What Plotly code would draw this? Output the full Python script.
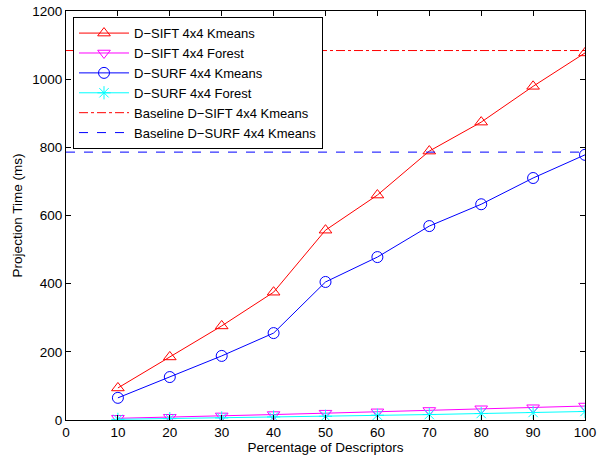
import plotly.graph_objects as go

percent = [10, 20, 30, 40, 50, 60, 70, 80, 90, 100]
sift_kmeans = [94, 185, 276, 375, 557, 660, 789, 874, 979, 1077]
sift_forest = [5, 8, 12, 16, 20, 24, 28, 33, 36, 41]
surf_kmeans = [65, 126, 188, 255, 405, 478, 569, 633, 710, 778]
surf_forest = [2, 4, 6, 9, 11, 14, 16, 19, 22, 25]
baseline_sift = 1084
baseline_surf = 786
x_limits = [0, 100]
y_limits = [0, 1200]

font = dict(family="Liberation Sans, Arial, sans-serif", size=13.5, color="black")
legend_font = dict(family="Liberation Sans, Arial, sans-serif", size=13, color="black")

fig = go.Figure()
series = [
    ("D\u2212SIFT 4x4 Kmeans", sift_kmeans, "red", "triangle-up-open"),
    ("D\u2212SIFT 4x4 Forest", sift_forest, "magenta", "triangle-down-open"),
    ("D\u2212SURF 4x4 Kmeans", surf_kmeans, "blue", "circle-open"),
    ("D\u2212SURF 4x4 Forest", surf_forest, "cyan", "asterisk-open"),
]
for name, vals, col, sym in series:
    fig.add_trace(go.Scatter(
        x=percent, y=vals, name=name, mode="lines+markers",
        line=dict(color=col, width=1),
        marker=dict(symbol=sym, size=11, color=col, line=dict(color=col, width=1)),
    ))

fig.add_trace(go.Scatter(
    x=x_limits, y=[baseline_sift] * 2, name="Baseline D\u2212SIFT 4x4 Kmeans",
    mode="lines", line=dict(color="red", width=1, dash="dashdot"),
))
fig.add_trace(go.Scatter(
    x=x_limits, y=[baseline_surf] * 2, name="Baseline D\u2212SURF 4x4 Kmeans",
    mode="lines", line=dict(color="blue", width=1, dash="dash"),
))

axis_common = dict(
    showgrid=False, zeroline=False, showline=True, linecolor="black", linewidth=1,
    mirror="ticks", ticks="inside", ticklen=5, tickcolor="black", tickwidth=1,
    tickfont=font, automargin=False,
)
fig.update_xaxes(range=x_limits, dtick=10, tick0=0,
                 title=dict(text="Percentage of Descriptors", font=font, standoff=2),
                 **axis_common)
fig.update_yaxes(range=y_limits, dtick=200, tick0=0,
                 title=dict(text="Projection Time (ms)", font=font, standoff=6),
                 **axis_common)

fig.update_layout(
    width=597, height=461,
    margin=dict(l=66, r=12, t=11, b=41),
    paper_bgcolor="white", plot_bgcolor="white",
    font=font,
    legend=dict(
        x=0.0135, y=0.985, xanchor="left", yanchor="top",
        bgcolor="white", bordercolor="black", borderwidth=1,
        font=legend_font, itemwidth=50, tracegroupgap=0,
    ),
)

fig.write_html("out.html", config={"displayModeBar": False},
               post_script="document.body.style.margin='0';")
